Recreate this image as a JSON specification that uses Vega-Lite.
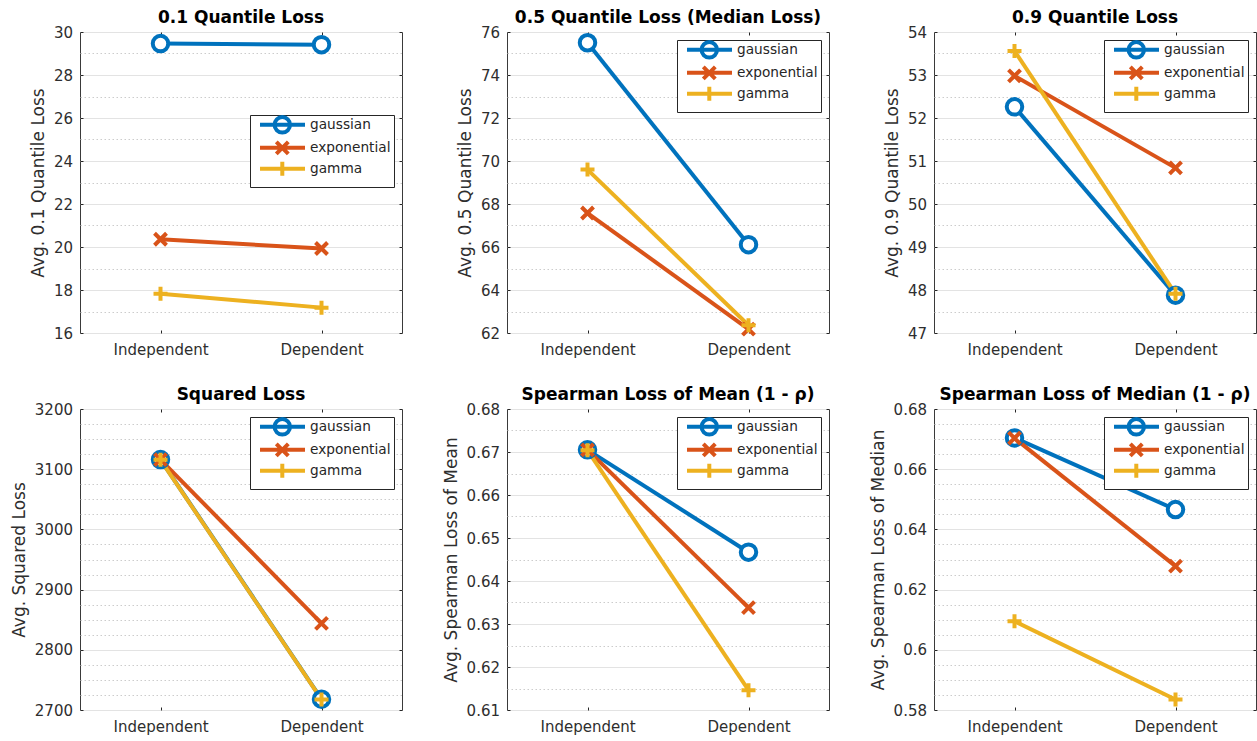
{
  "$schema": "https://vega.github.io/schema/vega-lite/v6.json",
  "background": "white",
  "padding": {"left": 9, "top": 8, "right": 0, "bottom": 0},
  "data": {"values": [
    {"panel": "q01", "series": "gaussian", "setting": "Independent", "value": 29.46},
    {"panel": "q01", "series": "gaussian", "setting": "Dependent", "value": 29.41},
    {"panel": "q01", "series": "exponential", "setting": "Independent", "value": 20.36},
    {"panel": "q01", "series": "exponential", "setting": "Dependent", "value": 19.93},
    {"panel": "q01", "series": "gamma", "setting": "Independent", "value": 17.83},
    {"panel": "q01", "series": "gamma", "setting": "Dependent", "value": 17.18},
    {"panel": "q05", "series": "gaussian", "setting": "Independent", "value": 75.5},
    {"panel": "q05", "series": "gaussian", "setting": "Dependent", "value": 66.11},
    {"panel": "q05", "series": "exponential", "setting": "Independent", "value": 67.58},
    {"panel": "q05", "series": "exponential", "setting": "Dependent", "value": 62.18},
    {"panel": "q05", "series": "gamma", "setting": "Independent", "value": 69.6},
    {"panel": "q05", "series": "gamma", "setting": "Dependent", "value": 62.36},
    {"panel": "q09", "series": "gaussian", "setting": "Independent", "value": 52.26},
    {"panel": "q09", "series": "gaussian", "setting": "Dependent", "value": 47.88},
    {"panel": "q09", "series": "exponential", "setting": "Independent", "value": 52.98},
    {"panel": "q09", "series": "exponential", "setting": "Dependent", "value": 50.84},
    {"panel": "q09", "series": "gamma", "setting": "Independent", "value": 53.56},
    {"panel": "q09", "series": "gamma", "setting": "Dependent", "value": 47.91},
    {"panel": "sq", "series": "gaussian", "setting": "Independent", "value": 3116},
    {"panel": "sq", "series": "gaussian", "setting": "Dependent", "value": 2718},
    {"panel": "sq", "series": "exponential", "setting": "Independent", "value": 3116},
    {"panel": "sq", "series": "exponential", "setting": "Dependent", "value": 2844},
    {"panel": "sq", "series": "gamma", "setting": "Independent", "value": 3115.5},
    {"panel": "sq", "series": "gamma", "setting": "Dependent", "value": 2717.5},
    {"panel": "smean", "series": "gaussian", "setting": "Independent", "value": 0.6705},
    {"panel": "smean", "series": "gaussian", "setting": "Dependent", "value": 0.6467},
    {"panel": "smean", "series": "exponential", "setting": "Independent", "value": 0.6705},
    {"panel": "smean", "series": "exponential", "setting": "Dependent", "value": 0.6338},
    {"panel": "smean", "series": "gamma", "setting": "Independent", "value": 0.6704},
    {"panel": "smean", "series": "gamma", "setting": "Dependent", "value": 0.6146},
    {"panel": "smed", "series": "gaussian", "setting": "Independent", "value": 0.6704},
    {"panel": "smed", "series": "gaussian", "setting": "Dependent", "value": 0.6466},
    {"panel": "smed", "series": "exponential", "setting": "Independent", "value": 0.6703},
    {"panel": "smed", "series": "exponential", "setting": "Dependent", "value": 0.6278},
    {"panel": "smed", "series": "gamma", "setting": "Independent", "value": 0.6095},
    {"panel": "smed", "series": "gamma", "setting": "Dependent", "value": 0.5835}
  ]},
  "columns": 3,
  "spacing": {"row": 76, "column": 105},
  "bounds": "flush",
  "resolve": {
    "scale": {"x": "independent", "y": "independent", "color": "independent", "shape": "independent"},
    "legend": {"color": "independent", "shape": "independent"}
  },
  "concat": [
    {
      "title": "0.1 Quantile Loss",
      "width": 322, "height": 301,
      "transform": [{"filter": "datum.panel === 'q01'"}],
      "layer": [
        {"mark": {"type": "line", "opacity": 0},
         "encoding": {
           "x": {"field": "setting", "type": "nominal", "axis": null},
           "y": {"field": "value", "type": "quantitative", "axis": {"orient": "left", "values": [17, 19, 21, 23, 25, 27, 29], "labels": false, "ticks": false, "domain": false, "title": null, "grid": true, "gridDash": [1.5, 2.5], "gridColor": "#cccccc"}},
           "detail": {"field": "series"}}},
        {"mark": {"type": "line", "strokeWidth": 4},
         "encoding": {
           "x": {"field": "setting", "type": "nominal", "scale": {"type": "point", "domain": ["Independent", "Dependent"], "padding": 0.5}, "axis": {"orient": "bottom", "title": null, "labelAngle": 0, "grid": false, "domain": false, "tickSize": -3, "labelPadding": 12}},
           "y": {"field": "value", "type": "quantitative", "scale": {"domain": [16, 30], "nice": false, "zero": false}, "axis": {"orient": "left", "values": [16, 18, 20, 22, 24, 26, 28, 30], "format": "d", "title": "Avg. 0.1 Quantile Loss", "grid": true, "domain": false, "tickSize": -3, "labelPadding": 10.5}},
           "color": {"field": "series", "type": "nominal", "scale": {"domain": ["gaussian", "exponential", "gamma"], "range": ["#0072BD", "#D95319", "#EDB120"]}, "legend": null}}},
        {"mark": {"type": "point", "filled": false, "fill": "white", "strokeWidth": 4, "size": 4, "opacity": 1},
         "encoding": {
           "x": {"field": "setting", "type": "nominal", "axis": {"orient": "top", "title": null, "labels": false, "grid": false, "domain": false, "tickSize": -3}},
           "y": {"field": "value", "type": "quantitative", "axis": {"orient": "right", "values": [16, 18, 20, 22, 24, 26, 28, 30], "labels": false, "title": null, "grid": false, "domain": false, "tickSize": -3}},
           "color": {"field": "series", "type": "nominal", "legend": null},
           "shape": {"field": "series", "type": "nominal", "scale": {"domain": ["gaussian", "exponential", "gamma"], "range": ["M7.75,0C7.75,4.28,4.28,7.75,0,7.75C-4.28,7.75,-7.75,4.28,-7.75,0C-7.75,-4.28,-4.28,-7.75,0,-7.75C4.28,-7.75,7.75,-4.28,7.75,0Z", "M-6,-6L6,6M-6,6L6,-6", "M-7,0L7,0M0,-7L0,7"]}, "legend": null}}},
        {"mark": {"type": "point", "filled": false, "fill": "white", "strokeWidth": 4, "size": 4, "opacity": 0},
         "encoding": {
           "x": {"field": "setting", "type": "nominal", "axis": null},
           "y": {"field": "value", "type": "quantitative", "axis": null},
           "color": {"field": "series", "type": "nominal", "legend": {"title": null, "orient": "none", "legendX": 170, "legendY": 83}},
           "shape": {"field": "series", "type": "nominal", "scale": {"domain": ["gaussian", "exponential", "gamma"], "range": ["M0.15,0L45.15,0M30.2,0C30.2,4.28,26.73,7.75,22.45,7.75C18.17,7.75,14.7,4.28,14.7,0C14.7,-4.28,18.17,-7.75,22.45,-7.75C26.73,-7.75,30.2,-4.28,30.2,0Z", "M0.15,0L45.15,0M16.45,-6L28.45,6M16.45,6L28.45,-6", "M0.15,0L45.15,0M15.45,0L29.45,0M22.45,-7L22.45,7"]}, "legend": {"title": null, "orient": "none", "legendX": 170, "legendY": 83}}}}
      ],
      "resolve": {"axis": {"x": "independent", "y": "independent"}, "scale": {"shape": "independent"}, "legend": {"shape": "independent", "color": "independent"}}
    },
    {
      "title": "0.5 Quantile Loss (Median Loss)",
      "width": 322, "height": 301,
      "transform": [{"filter": "datum.panel === 'q05'"}],
      "layer": [
        {"mark": {"type": "line", "opacity": 0},
         "encoding": {
           "x": {"field": "setting", "type": "nominal", "axis": null},
           "y": {"field": "value", "type": "quantitative", "axis": {"orient": "left", "values": [63, 65, 67, 69, 71, 73, 75], "labels": false, "ticks": false, "domain": false, "title": null, "grid": true, "gridDash": [1.5, 2.5], "gridColor": "#cccccc"}},
           "detail": {"field": "series"}}},
        {"mark": {"type": "line", "strokeWidth": 4},
         "encoding": {
           "x": {"field": "setting", "type": "nominal", "scale": {"type": "point", "domain": ["Independent", "Dependent"], "padding": 0.5}, "axis": {"orient": "bottom", "title": null, "labelAngle": 0, "grid": false, "domain": false, "tickSize": -3, "labelPadding": 12}},
           "y": {"field": "value", "type": "quantitative", "scale": {"domain": [62, 76], "nice": false, "zero": false}, "axis": {"orient": "left", "values": [62, 64, 66, 68, 70, 72, 74, 76], "format": "d", "title": "Avg. 0.5 Quantile Loss", "grid": true, "domain": false, "tickSize": -3, "labelPadding": 10.5}},
           "color": {"field": "series", "type": "nominal", "scale": {"domain": ["gaussian", "exponential", "gamma"], "range": ["#0072BD", "#D95319", "#EDB120"]}, "legend": null}}},
        {"mark": {"type": "point", "filled": false, "fill": "white", "strokeWidth": 4, "size": 4, "opacity": 1},
         "encoding": {
           "x": {"field": "setting", "type": "nominal", "axis": {"orient": "top", "title": null, "labels": false, "grid": false, "domain": false, "tickSize": -3}},
           "y": {"field": "value", "type": "quantitative", "axis": {"orient": "right", "values": [62, 64, 66, 68, 70, 72, 74, 76], "labels": false, "title": null, "grid": false, "domain": false, "tickSize": -3}},
           "color": {"field": "series", "type": "nominal", "legend": null},
           "shape": {"field": "series", "type": "nominal", "scale": {"domain": ["gaussian", "exponential", "gamma"], "range": ["M7.75,0C7.75,4.28,4.28,7.75,0,7.75C-4.28,7.75,-7.75,4.28,-7.75,0C-7.75,-4.28,-4.28,-7.75,0,-7.75C4.28,-7.75,7.75,-4.28,7.75,0Z", "M-6,-6L6,6M-6,6L6,-6", "M-7,0L7,0M0,-7L0,7"]}, "legend": null}}},
        {"mark": {"type": "point", "filled": false, "fill": "white", "strokeWidth": 4, "size": 4, "opacity": 0},
         "encoding": {
           "x": {"field": "setting", "type": "nominal", "axis": null},
           "y": {"field": "value", "type": "quantitative", "axis": null},
           "color": {"field": "series", "type": "nominal", "legend": {"title": null, "orient": "none", "legendX": 170, "legendY": 8}},
           "shape": {"field": "series", "type": "nominal", "scale": {"domain": ["gaussian", "exponential", "gamma"], "range": ["M0.15,0L45.15,0M30.2,0C30.2,4.28,26.73,7.75,22.45,7.75C18.17,7.75,14.7,4.28,14.7,0C14.7,-4.28,18.17,-7.75,22.45,-7.75C26.73,-7.75,30.2,-4.28,30.2,0Z", "M0.15,0L45.15,0M16.45,-6L28.45,6M16.45,6L28.45,-6", "M0.15,0L45.15,0M15.45,0L29.45,0M22.45,-7L22.45,7"]}, "legend": {"title": null, "orient": "none", "legendX": 170, "legendY": 8}}}}
      ],
      "resolve": {"axis": {"x": "independent", "y": "independent"}, "scale": {"shape": "independent"}, "legend": {"shape": "independent", "color": "independent"}}
    },
    {
      "title": "0.9 Quantile Loss",
      "width": 322, "height": 301,
      "transform": [{"filter": "datum.panel === 'q09'"}],
      "layer": [
        {"mark": {"type": "line", "opacity": 0},
         "encoding": {
           "x": {"field": "setting", "type": "nominal", "axis": null},
           "y": {"field": "value", "type": "quantitative", "axis": {"orient": "left", "values": [47.5, 48.5, 49.5, 50.5, 51.5, 52.5, 53.5], "labels": false, "ticks": false, "domain": false, "title": null, "grid": true, "gridDash": [1.5, 2.5], "gridColor": "#cccccc"}},
           "detail": {"field": "series"}}},
        {"mark": {"type": "line", "strokeWidth": 4},
         "encoding": {
           "x": {"field": "setting", "type": "nominal", "scale": {"type": "point", "domain": ["Independent", "Dependent"], "padding": 0.5}, "axis": {"orient": "bottom", "title": null, "labelAngle": 0, "grid": false, "domain": false, "tickSize": -3, "labelPadding": 12}},
           "y": {"field": "value", "type": "quantitative", "scale": {"domain": [47, 54], "nice": false, "zero": false}, "axis": {"orient": "left", "values": [47, 48, 49, 50, 51, 52, 53, 54], "format": "d", "title": "Avg. 0.9 Quantile Loss", "grid": true, "domain": false, "tickSize": -3, "labelPadding": 10.5}},
           "color": {"field": "series", "type": "nominal", "scale": {"domain": ["gaussian", "exponential", "gamma"], "range": ["#0072BD", "#D95319", "#EDB120"]}, "legend": null}}},
        {"mark": {"type": "point", "filled": false, "fill": "white", "strokeWidth": 4, "size": 4, "opacity": 1},
         "encoding": {
           "x": {"field": "setting", "type": "nominal", "axis": {"orient": "top", "title": null, "labels": false, "grid": false, "domain": false, "tickSize": -3}},
           "y": {"field": "value", "type": "quantitative", "axis": {"orient": "right", "values": [47, 48, 49, 50, 51, 52, 53, 54], "labels": false, "title": null, "grid": false, "domain": false, "tickSize": -3}},
           "color": {"field": "series", "type": "nominal", "legend": null},
           "shape": {"field": "series", "type": "nominal", "scale": {"domain": ["gaussian", "exponential", "gamma"], "range": ["M7.75,0C7.75,4.28,4.28,7.75,0,7.75C-4.28,7.75,-7.75,4.28,-7.75,0C-7.75,-4.28,-4.28,-7.75,0,-7.75C4.28,-7.75,7.75,-4.28,7.75,0Z", "M-6,-6L6,6M-6,6L6,-6", "M-7,0L7,0M0,-7L0,7"]}, "legend": null}}},
        {"mark": {"type": "point", "filled": false, "fill": "white", "strokeWidth": 4, "size": 4, "opacity": 0},
         "encoding": {
           "x": {"field": "setting", "type": "nominal", "axis": null},
           "y": {"field": "value", "type": "quantitative", "axis": null},
           "color": {"field": "series", "type": "nominal", "legend": {"title": null, "orient": "none", "legendX": 170, "legendY": 8}},
           "shape": {"field": "series", "type": "nominal", "scale": {"domain": ["gaussian", "exponential", "gamma"], "range": ["M0.15,0L45.15,0M30.2,0C30.2,4.28,26.73,7.75,22.45,7.75C18.17,7.75,14.7,4.28,14.7,0C14.7,-4.28,18.17,-7.75,22.45,-7.75C26.73,-7.75,30.2,-4.28,30.2,0Z", "M0.15,0L45.15,0M16.45,-6L28.45,6M16.45,6L28.45,-6", "M0.15,0L45.15,0M15.45,0L29.45,0M22.45,-7L22.45,7"]}, "legend": {"title": null, "orient": "none", "legendX": 170, "legendY": 8}}}}
      ],
      "resolve": {"axis": {"x": "independent", "y": "independent"}, "scale": {"shape": "independent"}, "legend": {"shape": "independent", "color": "independent"}}
    },
    {
      "title": "Squared Loss",
      "width": 322, "height": 301,
      "transform": [{"filter": "datum.panel === 'sq'"}],
      "layer": [
        {"mark": {"type": "line", "opacity": 0},
         "encoding": {
           "x": {"field": "setting", "type": "nominal", "axis": null},
           "y": {"field": "value", "type": "quantitative", "axis": {"orient": "left", "values": [2725, 2750, 2775, 2825, 2850, 2875, 2925, 2950, 2975, 3025, 3050, 3075, 3125, 3150, 3175], "labels": false, "ticks": false, "domain": false, "title": null, "grid": true, "gridDash": [1.5, 2.5], "gridColor": "#cccccc"}},
           "detail": {"field": "series"}}},
        {"mark": {"type": "line", "strokeWidth": 4},
         "encoding": {
           "x": {"field": "setting", "type": "nominal", "scale": {"type": "point", "domain": ["Independent", "Dependent"], "padding": 0.5}, "axis": {"orient": "bottom", "title": null, "labelAngle": 0, "grid": false, "domain": false, "tickSize": -3, "labelPadding": 12}},
           "y": {"field": "value", "type": "quantitative", "scale": {"domain": [2700, 3200], "nice": false, "zero": false}, "axis": {"orient": "left", "values": [2700, 2800, 2900, 3000, 3100, 3200], "format": "d", "title": "Avg. Squared Loss", "grid": true, "domain": false, "tickSize": -3, "labelPadding": 10.5}},
           "color": {"field": "series", "type": "nominal", "scale": {"domain": ["gaussian", "exponential", "gamma"], "range": ["#0072BD", "#D95319", "#EDB120"]}, "legend": null}}},
        {"mark": {"type": "point", "filled": false, "fill": "white", "strokeWidth": 4, "size": 4, "opacity": 1},
         "encoding": {
           "x": {"field": "setting", "type": "nominal", "axis": {"orient": "top", "title": null, "labels": false, "grid": false, "domain": false, "tickSize": -3}},
           "y": {"field": "value", "type": "quantitative", "axis": {"orient": "right", "values": [2700, 2800, 2900, 3000, 3100, 3200], "labels": false, "title": null, "grid": false, "domain": false, "tickSize": -3}},
           "color": {"field": "series", "type": "nominal", "legend": null},
           "shape": {"field": "series", "type": "nominal", "scale": {"domain": ["gaussian", "exponential", "gamma"], "range": ["M7.75,0C7.75,4.28,4.28,7.75,0,7.75C-4.28,7.75,-7.75,4.28,-7.75,0C-7.75,-4.28,-4.28,-7.75,0,-7.75C4.28,-7.75,7.75,-4.28,7.75,0Z", "M-6,-6L6,6M-6,6L6,-6", "M-7,0L7,0M0,-7L0,7"]}, "legend": null}}},
        {"mark": {"type": "point", "filled": false, "fill": "white", "strokeWidth": 4, "size": 4, "opacity": 0},
         "encoding": {
           "x": {"field": "setting", "type": "nominal", "axis": null},
           "y": {"field": "value", "type": "quantitative", "axis": null},
           "color": {"field": "series", "type": "nominal", "legend": {"title": null, "orient": "none", "legendX": 170, "legendY": 8}},
           "shape": {"field": "series", "type": "nominal", "scale": {"domain": ["gaussian", "exponential", "gamma"], "range": ["M0.15,0L45.15,0M30.2,0C30.2,4.28,26.73,7.75,22.45,7.75C18.17,7.75,14.7,4.28,14.7,0C14.7,-4.28,18.17,-7.75,22.45,-7.75C26.73,-7.75,30.2,-4.28,30.2,0Z", "M0.15,0L45.15,0M16.45,-6L28.45,6M16.45,6L28.45,-6", "M0.15,0L45.15,0M15.45,0L29.45,0M22.45,-7L22.45,7"]}, "legend": {"title": null, "orient": "none", "legendX": 170, "legendY": 8}}}}
      ],
      "resolve": {"axis": {"x": "independent", "y": "independent"}, "scale": {"shape": "independent"}, "legend": {"shape": "independent", "color": "independent"}}
    },
    {
      "title": "Spearman Loss of Mean (1 - ρ)",
      "width": 322, "height": 301,
      "transform": [{"filter": "datum.panel === 'smean'"}],
      "layer": [
        {"mark": {"type": "line", "opacity": 0},
         "encoding": {
           "x": {"field": "setting", "type": "nominal", "axis": null},
           "y": {"field": "value", "type": "quantitative", "axis": {"orient": "left", "values": [0.615, 0.625, 0.635, 0.645, 0.655, 0.665, 0.675], "labels": false, "ticks": false, "domain": false, "title": null, "grid": true, "gridDash": [1.5, 2.5], "gridColor": "#cccccc"}},
           "detail": {"field": "series"}}},
        {"mark": {"type": "line", "strokeWidth": 4},
         "encoding": {
           "x": {"field": "setting", "type": "nominal", "scale": {"type": "point", "domain": ["Independent", "Dependent"], "padding": 0.5}, "axis": {"orient": "bottom", "title": null, "labelAngle": 0, "grid": false, "domain": false, "tickSize": -3, "labelPadding": 12}},
           "y": {"field": "value", "type": "quantitative", "scale": {"domain": [0.61, 0.68], "nice": false, "zero": false}, "axis": {"orient": "left", "values": [0.61, 0.62, 0.63, 0.64, 0.65, 0.66, 0.67, 0.68], "format": ".2~f", "title": "Avg. Spearman Loss of Mean", "grid": true, "domain": false, "tickSize": -3, "labelPadding": 10.5}},
           "color": {"field": "series", "type": "nominal", "scale": {"domain": ["gaussian", "exponential", "gamma"], "range": ["#0072BD", "#D95319", "#EDB120"]}, "legend": null}}},
        {"mark": {"type": "point", "filled": false, "fill": "white", "strokeWidth": 4, "size": 4, "opacity": 1},
         "encoding": {
           "x": {"field": "setting", "type": "nominal", "axis": {"orient": "top", "title": null, "labels": false, "grid": false, "domain": false, "tickSize": -3}},
           "y": {"field": "value", "type": "quantitative", "axis": {"orient": "right", "values": [0.61, 0.62, 0.63, 0.64, 0.65, 0.66, 0.67, 0.68], "labels": false, "title": null, "grid": false, "domain": false, "tickSize": -3}},
           "color": {"field": "series", "type": "nominal", "legend": null},
           "shape": {"field": "series", "type": "nominal", "scale": {"domain": ["gaussian", "exponential", "gamma"], "range": ["M7.75,0C7.75,4.28,4.28,7.75,0,7.75C-4.28,7.75,-7.75,4.28,-7.75,0C-7.75,-4.28,-4.28,-7.75,0,-7.75C4.28,-7.75,7.75,-4.28,7.75,0Z", "M-6,-6L6,6M-6,6L6,-6", "M-7,0L7,0M0,-7L0,7"]}, "legend": null}}},
        {"mark": {"type": "point", "filled": false, "fill": "white", "strokeWidth": 4, "size": 4, "opacity": 0},
         "encoding": {
           "x": {"field": "setting", "type": "nominal", "axis": null},
           "y": {"field": "value", "type": "quantitative", "axis": null},
           "color": {"field": "series", "type": "nominal", "legend": {"title": null, "orient": "none", "legendX": 170, "legendY": 8}},
           "shape": {"field": "series", "type": "nominal", "scale": {"domain": ["gaussian", "exponential", "gamma"], "range": ["M0.15,0L45.15,0M30.2,0C30.2,4.28,26.73,7.75,22.45,7.75C18.17,7.75,14.7,4.28,14.7,0C14.7,-4.28,18.17,-7.75,22.45,-7.75C26.73,-7.75,30.2,-4.28,30.2,0Z", "M0.15,0L45.15,0M16.45,-6L28.45,6M16.45,6L28.45,-6", "M0.15,0L45.15,0M15.45,0L29.45,0M22.45,-7L22.45,7"]}, "legend": {"title": null, "orient": "none", "legendX": 170, "legendY": 8}}}}
      ],
      "resolve": {"axis": {"x": "independent", "y": "independent"}, "scale": {"shape": "independent"}, "legend": {"shape": "independent", "color": "independent"}}
    },
    {
      "title": "Spearman Loss of Median (1 - ρ)",
      "width": 322, "height": 301,
      "transform": [{"filter": "datum.panel === 'smed'"}],
      "layer": [
        {"mark": {"type": "line", "opacity": 0},
         "encoding": {
           "x": {"field": "setting", "type": "nominal", "axis": null},
           "y": {"field": "value", "type": "quantitative", "axis": {"orient": "left", "values": [0.585, 0.59, 0.595, 0.605, 0.61, 0.615, 0.625, 0.63, 0.635, 0.645, 0.65, 0.655, 0.665, 0.67, 0.675], "labels": false, "ticks": false, "domain": false, "title": null, "grid": true, "gridDash": [1.5, 2.5], "gridColor": "#cccccc"}},
           "detail": {"field": "series"}}},
        {"mark": {"type": "line", "strokeWidth": 4},
         "encoding": {
           "x": {"field": "setting", "type": "nominal", "scale": {"type": "point", "domain": ["Independent", "Dependent"], "padding": 0.5}, "axis": {"orient": "bottom", "title": null, "labelAngle": 0, "grid": false, "domain": false, "tickSize": -3, "labelPadding": 12}},
           "y": {"field": "value", "type": "quantitative", "scale": {"domain": [0.58, 0.68], "nice": false, "zero": false}, "axis": {"orient": "left", "values": [0.58, 0.6, 0.62, 0.64, 0.66, 0.68], "format": ".2~f", "title": "Avg. Spearman Loss of Median", "grid": true, "domain": false, "tickSize": -3, "labelPadding": 10.5}},
           "color": {"field": "series", "type": "nominal", "scale": {"domain": ["gaussian", "exponential", "gamma"], "range": ["#0072BD", "#D95319", "#EDB120"]}, "legend": null}}},
        {"mark": {"type": "point", "filled": false, "fill": "white", "strokeWidth": 4, "size": 4, "opacity": 1},
         "encoding": {
           "x": {"field": "setting", "type": "nominal", "axis": {"orient": "top", "title": null, "labels": false, "grid": false, "domain": false, "tickSize": -3}},
           "y": {"field": "value", "type": "quantitative", "axis": {"orient": "right", "values": [0.58, 0.6, 0.62, 0.64, 0.66, 0.68], "labels": false, "title": null, "grid": false, "domain": false, "tickSize": -3}},
           "color": {"field": "series", "type": "nominal", "legend": null},
           "shape": {"field": "series", "type": "nominal", "scale": {"domain": ["gaussian", "exponential", "gamma"], "range": ["M7.75,0C7.75,4.28,4.28,7.75,0,7.75C-4.28,7.75,-7.75,4.28,-7.75,0C-7.75,-4.28,-4.28,-7.75,0,-7.75C4.28,-7.75,7.75,-4.28,7.75,0Z", "M-6,-6L6,6M-6,6L6,-6", "M-7,0L7,0M0,-7L0,7"]}, "legend": null}}},
        {"mark": {"type": "point", "filled": false, "fill": "white", "strokeWidth": 4, "size": 4, "opacity": 0},
         "encoding": {
           "x": {"field": "setting", "type": "nominal", "axis": null},
           "y": {"field": "value", "type": "quantitative", "axis": null},
           "color": {"field": "series", "type": "nominal", "legend": {"title": null, "orient": "none", "legendX": 170, "legendY": 8}},
           "shape": {"field": "series", "type": "nominal", "scale": {"domain": ["gaussian", "exponential", "gamma"], "range": ["M0.15,0L45.15,0M30.2,0C30.2,4.28,26.73,7.75,22.45,7.75C18.17,7.75,14.7,4.28,14.7,0C14.7,-4.28,18.17,-7.75,22.45,-7.75C26.73,-7.75,30.2,-4.28,30.2,0Z", "M0.15,0L45.15,0M16.45,-6L28.45,6M16.45,6L28.45,-6", "M0.15,0L45.15,0M15.45,0L29.45,0M22.45,-7L22.45,7"]}, "legend": {"title": null, "orient": "none", "legendX": 170, "legendY": 8}}}}
      ],
      "resolve": {"axis": {"x": "independent", "y": "independent"}, "scale": {"shape": "independent"}, "legend": {"shape": "independent", "color": "independent"}}
    }
  ],
  "config": {
    "font": "DejaVu Sans",
    "view": {"stroke": "#3a3a3a", "strokeWidth": 1},
    "axis": {"labelFont": "DejaVu Sans", "labelFontSize": 15, "labelColor": "#2e2e2e", "titleFont": "DejaVu Sans", "titleFontSize": 17, "titleFontWeight": "normal", "titleColor": "#2e2e2e", "titlePadding": 6, "tickColor": "#262626", "tickWidth": 1, "gridColor": "#e3e3e3", "gridWidth": 1, "gridOpacity": 1},
    "title": {"font": "DejaVu Sans", "fontSize": 17, "fontWeight": "bold", "color": "#000000", "anchor": "middle", "frame": "group", "offset": -2, "baseline": "alphabetic"},
    "legend": {"labelFont": "DejaVu Sans", "labelFontSize": 13.7, "labelColor": "#262626", "strokeColor": "#262626", "fillColor": "#ffffff", "padding": 3, "symbolSize": 4, "symbolStrokeWidth": 4, "symbolOpacity": 1, "labelOffset": 43.3, "rowPadding": -15}
  }
}
